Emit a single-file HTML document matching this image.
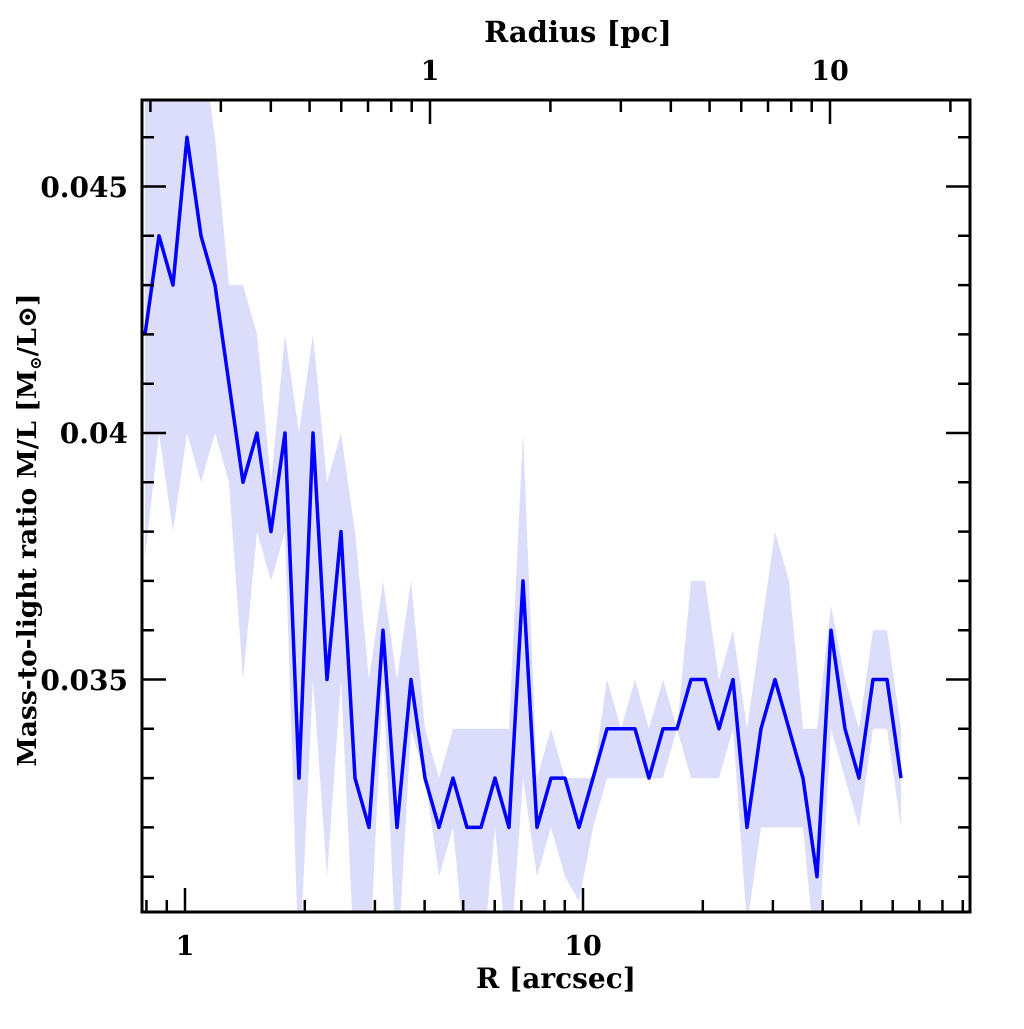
<!DOCTYPE html>
<html><head><meta charset="utf-8"><style>
html,body{margin:0;padding:0;background:#fff;}
svg text{font-family:"DejaVu Serif","Liberation Serif",serif;font-weight:bold;fill:#000;}
</style></head><body>
<svg id="s" width="1024" height="1024" viewBox="0 0 1024 1024" xmlns="http://www.w3.org/2000/svg">
<defs><clipPath id="c"><rect x="142" y="100" width="828" height="812"/></clipPath></defs>
<g id="plot" clip-path="url(#c)"></g>
<g id="ax" stroke="#000" stroke-width="2.5" fill="none"></g>
<rect x="142" y="100" width="828" height="812" fill="none" stroke="#000" stroke-width="3"/>
<text x="185" y="955" font-size="27" text-anchor="middle">1</text>
<text x="583" y="955" font-size="27" text-anchor="middle">10</text>
<text x="556" y="988" font-size="28" text-anchor="middle">R [arcsec]</text>
<text x="430" y="80" font-size="27" text-anchor="middle">1</text>
<text x="830" y="80" font-size="27" text-anchor="middle">10</text>
<text x="578" y="42" font-size="29" text-anchor="middle">Radius [pc]</text>
<text x="128" y="197" font-size="28" text-anchor="end">0.045</text>
<text x="128" y="443" font-size="28" text-anchor="end">0.04</text>
<text x="128" y="690" font-size="28" text-anchor="end">0.035</text>
<text transform="translate(36,530) rotate(-90)" font-size="26.5" text-anchor="middle">Mass-to-light ratio M/L [M<tspan font-size="16" dy="5">⊙</tspan><tspan dy="-5">/L⊙]</tspan></text>
</svg>
<script>
var v=[42,44,43,46,44,43,41,39,40,38,40,33,40,35,38,33,32,36,32,35,33,32,33,32,32,33,32,37,32,33,33,32,33,34,34,34,33,34,34,35,35,34,35,32,34,35,34,33,31,36,34,33,35,35,33];
var up=[48,48,48,48,48,46,43,43,42,39,42,40,42,39,40,38,35,37,35,37,34,33,34,34,34,34,34,40,33,34,33,33,33,35,34,35,34,35,34,37,37,35,36,34,36,38,37,34,34,36.5,35,34,36,36,34];
var lo=[37.5,40,38,40,39,40,39,35,38,37,38,29,35,31,35,29,29,35,29,34,33,31,32,29,29,32,29,33,31,32,31,30.5,32,33,33,33,33,33,34,33,33,33,34,30,32,32,32,32,29,34,33,32,34,34,32];
function X(i){return 145+14*i;} function Y(a){return 433-(a-40)*49.3;}
var ns="http://www.w3.org/2000/svg",g=document.getElementById('plot'),ax=document.getElementById('ax');
var p=[];for(var i=0;i<v.length;i++)p.push(X(i)+','+Y(up[i]));
for(var i=v.length-1;i>=0;i--)p.push(X(i)+','+Y(lo[i]));
var poly=document.createElementNS(ns,'polygon');poly.setAttribute('points',p.join(' '));poly.setAttribute('fill','#dcdcfb');g.appendChild(poly);
var l=[];for(var i=0;i<v.length;i++)l.push(X(i)+','+Y(v[i]));
var pl=document.createElementNS(ns,'polyline');pl.setAttribute('points',l.join(' '));pl.setAttribute('fill','none');pl.setAttribute('stroke','#0000ff');pl.setAttribute('stroke-width','3.5');pl.setAttribute('stroke-linejoin','round');g.appendChild(pl);
var d='';
for(var a=31;a<=46;a++){var y=Y(a),L=(a%5==0)?24:12;d+='M142 '+y+'h'+L+'M970 '+y+'h'+(-L);}
function logt(x0,dec,ytop,dir){for(var e=-1;e<=2;e++)for(var k=1;k<10;k++){var val=k*Math.pow(10,e);var x=x0+dec*Math.log10(val);if(x<143||x>969)continue;var L=(k==1)?24:12;d+='M'+x+' '+ytop+'v'+(dir*L);}}
logt(185,398,912,-1);logt(430,400,100,1);
var path=document.createElementNS(ns,'path');path.setAttribute('d',d);ax.appendChild(path);
</script>
</body></html>
